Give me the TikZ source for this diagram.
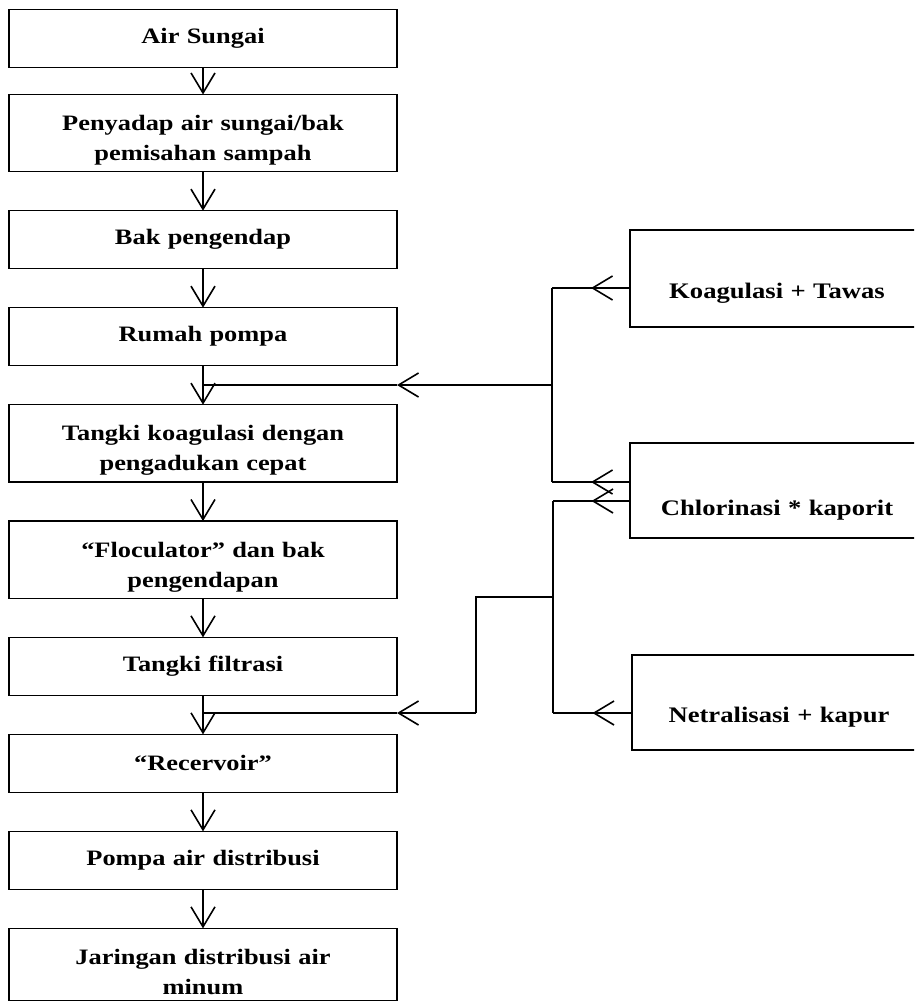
\documentclass[tikz,border=0pt]{standalone}
\usepackage{fontspec}
\setmainfont{Liberation Serif}[FakeStretch=1.2]
\usetikzlibrary{arrows.meta, positioning, decorations.markings}

\tikzset{
  proc/.style={draw, line width=1.6pt, outer sep=0pt, minimum width=388pt, text width=370pt,
    minimum height=58pt, inner xsep=9pt, inner ysep=13.5pt, align=center,
    font=\bfseries\fontsize{22}{30}\selectfont},
  twoline/.style={inner ysep=6.5pt, execute at begin node={\rule{0pt}{29.5pt}}},
  chem/.style={draw, line width=1.6pt, outer sep=0pt, minimum width=294pt, text width=280pt,
    align=center, text depth=0pt, font=\bfseries\fontsize{22.2}{30}\selectfont},
  barb/.style={-{Straight Barb[length=20pt,width=24pt]}},
  feed/.style={decoration={markings,
      mark=at position 0.5 with {\arrow{Straight Barb[length=20pt,width=24pt]}}},
    postaction=decorate},
}

\begin{document}
\begin{tikzpicture}[x=1pt, y=-1pt, node distance=39pt, line width=1.6pt]
    \useasboundingbox (0,0) rectangle (914,1001);
    \clip (0,0) rectangle (914,1001);
    % main process line
    \node[proc] (air) at (203,38.5) {Air Sungai};
    \node[proc,twoline] (sadap) [below=27pt of air] {Penyadap air sungai/bak\\pemisahan sampah};
    \node[proc] (endap) [below=of sadap] {Bak pengendap};
    \node[proc] (pompa) [below=of endap] {Rumah pompa};
    \node[proc,twoline] (koag) [below=of pompa] {Tangki koagulasi dengan\\pengadukan cepat};
    \node[proc,twoline] (floc) [below=of koag] {“Floculator” dan bak\\pengendapan};
    \node[proc] (filt) [below=of floc] {Tangki filtrasi};
    \node[proc] (resv) [below=of filt] {“Recervoir”};
    \node[proc] (dist) [below=of resv] {Pompa air distribusi};
    \node[proc,twoline] (jar) [below=of dist] {Jaringan distribusi air\\minum};
    % chemicals
    \node[chem, minimum height=97pt, text height=40pt] (tawas) at (777,278.5) {Koagulasi + Tawas};
    \node[chem, minimum height=95pt, text height=50pt] (klor) at (777,490.5) {Chlorinasi * kaporit};
    \node[chem, minimum height=95pt, text height=40pt] (kapur) at (779,702.5) {Netralisasi + kapur};
    \foreach \a/\b in {air/sadap, sadap/endap, endap/pompa, pompa/koag, koag/floc,
        floc/filt, filt/resv, resv/dist, dist/jar}
        \draw[barb] (\a) -- (\b);
    % dosing lines
    \coordinate (tA) at (552,288);
    \coordinate (jA) at (552,385);
    \coordinate (kA) at (552,482);
    \coordinate (kB) at (553,501);
    \coordinate (jB) at (553,597);
    \coordinate (jC) at (476,597);
    \coordinate (pB) at (553,713);
    \coordinate (jD) at (476,713);
    \draw[feed] (tawas.west |- tA) -- (tA);
    \draw[feed] (klor.west |- kA) -- (kA);
    \draw[feed] (klor.west |- kB) -- (kB);
    \draw[feed] (kapur.west |- pB) -- (pB);
    \draw (tA) -- (kA);
    \draw (kB) -- (pB);
    \draw[barb] (jA) -- (pompa.east |- jA);
    \draw (pompa.east |- jA) -- (pompa.south |- jA);
    \draw (jB) -- (jC) -- (jD);
    \draw[barb] (jD) -- (filt.east |- jD);
    \draw (filt.east |- jD) -- (filt.south |- jD);
\end{tikzpicture}
\end{document}
